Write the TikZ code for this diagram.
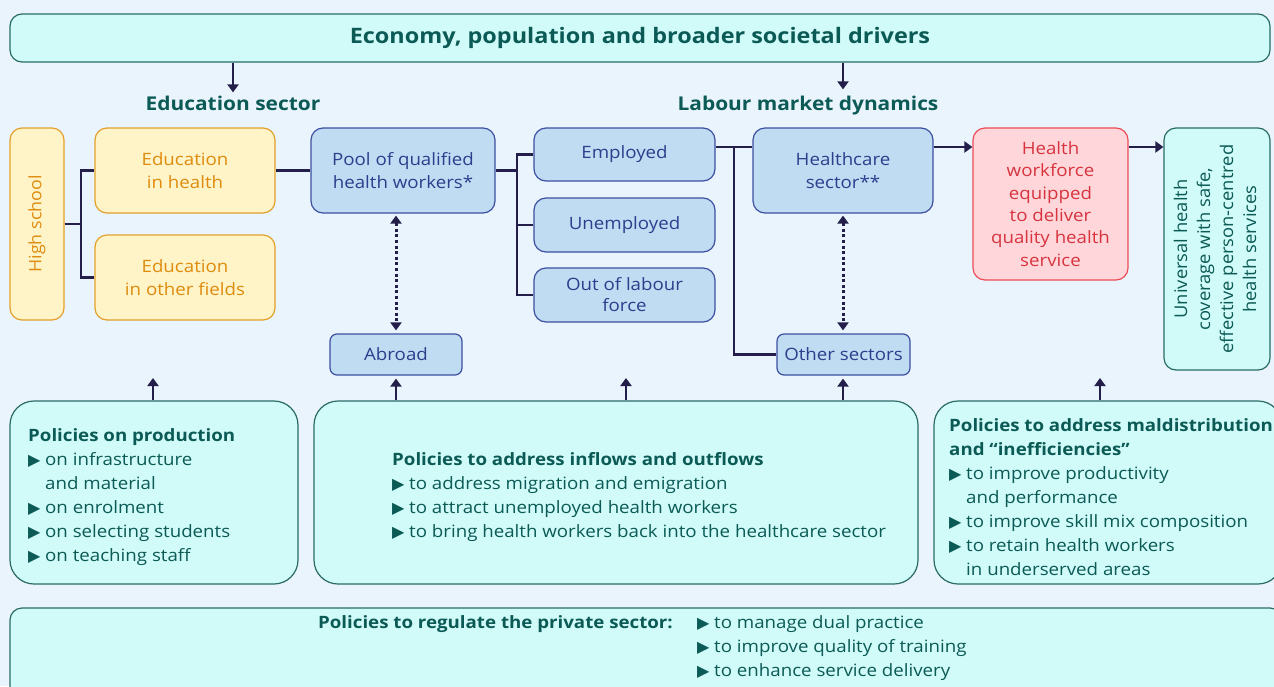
\documentclass[tikz,border=0pt]{standalone}
\usepackage{fontspec}
\setmainfont{Open Sans}[FakeStretch=1.1]
\newfontfamily\rotfont{Open Sans}[FakeStretch=1.05]
\newfontfamily\dejavu{DejaVu Sans}
\usetikzlibrary{arrows.meta,calc}
\definecolor{bgc}{HTML}{EAF4FD}
\definecolor{tealfill}{HTML}{D0FBF9}
\definecolor{tealline}{HTML}{2A6B66}
\definecolor{tealtext}{HTML}{0B5A55}
\definecolor{orfill}{HTML}{FFF3C8}
\definecolor{orline}{HTML}{E3A02A}
\definecolor{ortext}{HTML}{DF8C0E}
\definecolor{blfill}{HTML}{BFDCF3}
\definecolor{blline}{HTML}{3D4FA0}
\definecolor{bltext}{HTML}{2C3E8C}
\definecolor{rdfill}{HTML}{FFD7DA}
\definecolor{rdline}{HTML}{EE4B57}
\definecolor{rdtext}{HTML}{D7343F}
\definecolor{navy}{HTML}{231F4A}
\newcommand{\tri}{\makebox[17pt][l]{\dejavu\fontsize{16}{16}\selectfont ▶}}
\newcommand{\trispace}{\hspace*{17pt}}
\begin{document}
\begin{tikzpicture}[x=1pt,y=-1pt,
  box/.style={rounded corners=12pt, line width=1.2pt, align=center, inner sep=2pt,
    font=\fontsize{17}{23}\selectfont},
  tealbox/.style={box, draw=tealline, fill=tealfill, text=tealtext},
  orbox/.style={box, draw=orline, fill=orfill, text=ortext},
  blbox/.style={box, draw=blline, fill=blfill, text=bltext},
  rdbox/.style={box, draw=rdline, fill=rdfill, text=rdtext},
  polbox/.style={draw=tealline, fill=tealfill, line width=1.2pt, rounded corners=24pt},
  poltext/.style={text=tealtext, align=left, inner sep=0pt, font=\fontsize{17}{24}\selectfont},
  sec/.style={text=tealtext, inner sep=0pt, font=\bfseries\fontsize{19}{23}\selectfont},
  conn/.style={draw=navy, line width=2.8pt},
  arr/.style={conn, -{Triangle[width=11pt,length=8pt]}},
  dbl/.style={draw=navy, line width=3pt, dash pattern=on 3pt off 2.6pt,
    {Triangle[width=11pt,length=8pt]}-{Triangle[width=11pt,length=8pt]}},
]
\useasboundingbox (0,0) rectangle (1274,686);
\fill[bgc] (0,0) rectangle (1274,686);
\clip (0,0) rectangle (1274,686);

% top box
\node[tealbox, minimum width=1260pt, minimum height=48pt, font=\bfseries\fontsize{21.3}{25}\selectfont] (top) at (640,38) {Economy, population and broader societal drivers};
\node[sec, anchor=base] (edsec) at (233,110) {Education sector};
\node[sec, anchor=base] (lmd) at (808,110) {Labour market dynamics};

% row boxes
\node[orbox, minimum width=54pt, minimum height=192pt] (hs) at (37,224) {};
\node[text=ortext, rotate=90, font=\rotfont\fontsize{17}{23}\selectfont] (hslabel) at (hs.center) {High school};
\node[orbox, minimum width=180pt, minimum height=85pt] (eh) at (185,170.5) {Education\\in health};
\node[orbox, minimum width=180pt, minimum height=85pt] (eo) at (185,277.5) {Education\\in other fields};
\node[blbox, minimum width=184pt, minimum height=85pt] (pool) at (403,170.5) {Pool of qualified\\health workers*};
\node[blbox, minimum width=132pt, minimum height=41pt, rounded corners=7pt] (abroad) at (396,354.5) {Abroad};
\node[blbox, minimum width=181pt, minimum height=53pt] (emp) at (624.5,154.5) {Employed};
\node[blbox, minimum width=181pt, minimum height=54pt] (unemp) at (624.5,225) {Unemployed};
\node[blbox, minimum width=181pt, minimum height=54pt, font=\fontsize{17}{21}\selectfont] (out) at (624.5,295) {Out of labour\\force};
\node[blbox, minimum width=180pt, minimum height=85pt] (hc) at (843,170.5) {Healthcare\\sector**};
\node[blbox, minimum width=133pt, minimum height=41pt, rounded corners=7pt] (other) at (843.5,354.5) {Other sectors};
\node[rdbox, minimum width=155pt, minimum height=152pt, font=\fontsize{17}{22.4}\selectfont] (hw) at (1050.5,204) {Health\\workforce\\equipped\\to deliver\\quality health\\service};
\node[tealbox, minimum width=106pt, minimum height=242pt] (uhc) at (1217,249) {};
\node[text=tealtext, rotate=90, align=center, font=\rotfont\fontsize{17.5}{23}\selectfont] (uhclabel) at (1215,249) {Universal health\\coverage with safe,\\effective person-centred\\health services};

% policy boxes
\node[polbox, minimum width=288pt, minimum height=183pt] (pol1) at (154,492.5) {};
\node[polbox, minimum width=604pt, minimum height=183pt] (pol2) at (616,492.5) {};
\node[polbox, minimum width=348pt, minimum height=183pt] (pol3) at (1108,492.5) {};
\node[polbox, rounded corners=12pt, minimum width=1272pt, minimum height=92pt] (pol4) at (646,654) {};

\node[poltext, anchor=west] (p1t) at (28,497) {\textbf{Policies on production}\\\tri on infrastructure\\\trispace and material\\\tri on enrolment\\\tri on selecting students\\\tri on teaching staff};
\node[poltext, anchor=west] (p2t) at (392,497) {\textbf{Policies to address inflows and outflows}\\\tri to address migration and emigration\\\tri to attract unemployed health workers\\\tri to bring health workers back into the healthcare sector};
\node[poltext, anchor=west] (p3t) at (949,497) {\textbf{Policies to address maldistribution}\\\textbf{and ``inefficiencies''}\\\tri to improve productivity\\\trispace and performance\\\tri to improve skill mix composition\\\tri to retain health workers\\\trispace in underserved areas};
\node[poltext, anchor=east] (p4h) at (673,624) {\textbf{Policies to regulate the private sector:}};
\node[poltext, anchor=west] (p4t) at (697,648) {\tri to manage dual practice\\\tri to improve quality of training\\\tri to enhance service delivery};

% coordinates
\coordinate (b1) at (81,0);
\coordinate (b2) at (517,0);
\coordinate (b3) at (734,0);
\coordinate (r1) at (0,147);
\coordinate (f1) at (626,378);
\coordinate (f2) at (1100,378);

% connectors
\draw[conn] (hs.east) -- (hs.east -| b1);
\draw[conn] (eh.west) -- (eh.west -| b1) -- (eo.west -| b1) -- (eo.west);
\draw[conn] (eh.east) -- (pool.west);
\draw[conn] (pool.east) -- (pool.east -| b2);
\draw[conn] (emp.west) -- (emp.west -| b2) -- (out.west -| b2) -- (out.west);
\draw[conn] (b2 |- unemp.west) -- (unemp.west);
\draw[conn] (emp.east |- r1) -- (hc.west |- r1);
\draw[conn] (b3 |- r1) -- (b3 |- other.west) -- (other.west);
\draw[arr] (hc.east |- r1) -- (hw.west |- r1);
\draw[arr] (hw.east |- r1) -- (uhc.west |- r1);

\draw[dbl, shorten <=2pt, shorten >=3pt] (pool.south -| abroad) -- (abroad.north);
\draw[dbl, shorten <=2pt, shorten >=3pt] (hc.south) -- (other.north -| hc.south);

\draw[arr, shorten >=3pt] (top.south -| edsec) -- (edsec.north);
\draw[arr, shorten >=6pt] (top.south -| hc) -- (lmd.north -| hc);

\draw[arr] (pol1.north -| 153,0) -- (153,378);
\draw[arr, shorten >=3pt] (pol2.north -| abroad) -- (abroad.south);
\draw[arr] (pol2.north -| f1) -- (f1);
\draw[arr, shorten >=3pt] (pol2.north -| hc) -- (other.south -| hc);
\draw[arr] (pol3.north -| f2) -- (f2);
\end{tikzpicture}
\end{document}
